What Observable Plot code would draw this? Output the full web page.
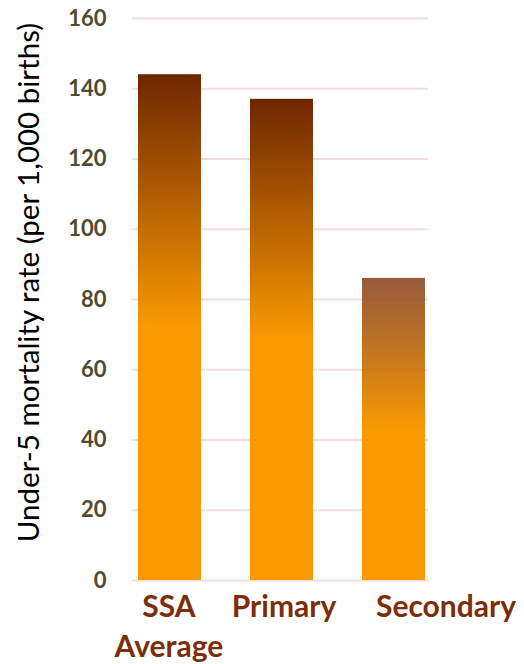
<!DOCTYPE html>
<html>
<head>
<meta charset="utf-8">
<script src="https://cdn.jsdelivr.net/npm/d3@7"></script>
<script src="https://cdn.jsdelivr.net/npm/@observablehq/plot@0.6"></script>
<style>
  html, body { margin: 0; padding: 0; background: #fff; }
  #chart svg { display: block; font-family: Lato, "Open Sans", sans-serif; }
</style>
</head>
<body>
<div id="chart"></div>
<script>
// Under-5 mortality by mother's education level
const categories = ["SSA Average", "Primary", "Secondary"];
const labelLines = ["SSA\nAverage", "Primary", "Secondary"];
const mortality = [144, 137, 86];
const yTicks = [0, 20, 40, 60, 80, 100, 120, 140, 160];
const yTitle = "Under-5 mortality rate (per 1,000 births)";

// gradient colours per bar: top shade fades into orange halfway down
const topColors = ["#6e2600", "#6e2600", "#853e1a"];
const topOpacity = [1, 1, 0.85];
const baseOrange = "#fa9900";
const labelShift = [-1, 2, 52];

const rows = categories.map((c, i) => ({category: c, value: mortality[i], grad: "bar-grad-" + i}));

function gradients() {
  const defs = d3.create("svg:defs");
  rows.forEach((r, i) => {
    const g = defs.append("linearGradient")
      .attr("id", r.grad)
      .attr("x1", 0).attr("y1", 0).attr("x2", 0).attr("y2", 1);
    g.append("stop").attr("offset", "0%").attr("stop-color", topColors[i]).attr("stop-opacity", topOpacity[i]);
    g.append("stop").attr("offset", "50%").attr("stop-color", baseOrange);
    g.append("stop").attr("offset", "100%").attr("stop-color", baseOrange);
  });
  return defs.node();
}

const labelMarks = categories.map((c, i) =>
  Plot.text([c], {
    x: d => d,
    y: 0,
    text: () => labelLines[i],
    dx: labelShift[i],
    dy: 8,
    lineAnchor: "top",
    lineHeight: 1.33,
    fontSize: 30,
    fontWeight: "bold",
    fill: "#7a2e0a"
  })
);

const chart = Plot.plot({
  width: 524,
  height: 664,
  marginLeft: 132,
  marginRight: 96,
  marginTop: 18,
  marginBottom: 84,
  x: {domain: categories, range: [137, 427], paddingInner: 0.4336, paddingOuter: 0, axis: null},
  y: {domain: [0, 160], axis: null},
  color: {type: "identity"},
  marks: [
    gradients,
    Plot.ruleY(yTicks, {stroke: "#f2dcdc", strokeWidth: 2}),
    Plot.barY(rows, {x: "category", y: "value", fill: d => `url(#${d.grad})`}),
    Plot.axisY({
      ticks: yTicks,
      tickSize: 0,
      tickPadding: 26,
      fontSize: 22,
      fontWeight: "bold",
      color: "#4f4a30",
      label: null
    }),
    ...labelMarks,
    Plot.text([yTitle], {
      frameAnchor: "left",
      text: d => d,
      rotate: -90,
      textAnchor: "middle",
      dx: -103,
      dy: -17,
      fontSize: 29.5,
      fill: "#000"
    })
  ]
});

document.getElementById("chart").append(chart);
</script>
</body>
</html>
